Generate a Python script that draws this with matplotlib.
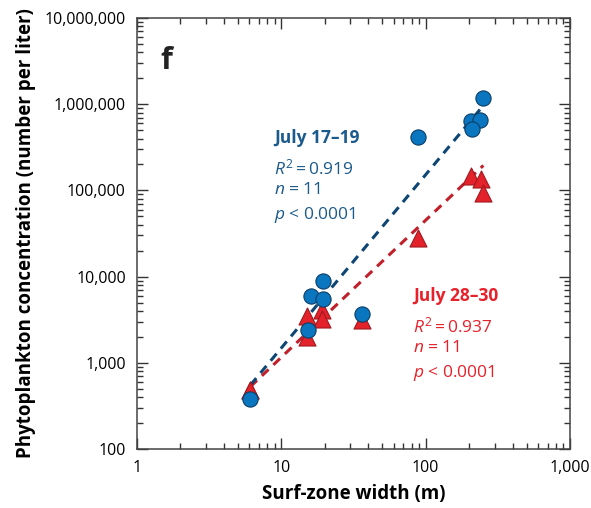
import numpy as np
import matplotlib.pyplot as plt
from matplotlib.ticker import FuncFormatter, LogLocator, NullFormatter

# ------------------------------
# Datos
# ------------------------------

# July 17-19 (círculos azules)
ancho_jul17 = [6.1, 15.4, 16.1, 19.3, 19.3, 36.5, 88, 207, 238, 211, 251]
conc_jul17 = [380, 2400, 5900, 8800, 5500, 3700, 413000, 640000, 650000, 512000, 1170000]

# July 28-30 (triángulos rojos)
ancho_jul28 = [6.1, 15.1, 15.1, 19.2, 19.2, 36.5, 88, 207, 240, 251, 6.1]
conc_jul28 = [485, 3450, 2000, 4100, 3200, 3100, 28000, 146000, 134000, 94000, 485]

# Rectas de regresión en log-log: log10(y) = a + b*log10(x)
ajuste_jul17 = (1.162, 2.01)
ajuste_jul28 = (1.474, 1.59)

etiquetas_jul17 = ["July 17\u201319", "$R^2 = 0.919$", "$n$ = 11", "$p$ < 0.0001"]
etiquetas_jul28 = ["July 28\u201330", "$R^2 = 0.937$", "$n$ = 11", "$p$ < 0.0001"]

azul_txt = "#1b5a8c"
rojo_txt = "#e8202a"

plt.rcParams['font.family'] = ['Open Sans', 'DejaVu Sans']
plt.rcParams['mathtext.fontset'] = 'custom'
plt.rcParams['mathtext.rm'] = 'Open Sans'
plt.rcParams['mathtext.it'] = 'Open Sans:italic'

fig = plt.figure(figsize=(5.91, 5.08), dpi=100)
ax = fig.add_axes([137 / 591, 1 - 449 / 508, 433 / 591, 431 / 508])


def recta(x, coef):
    a, b = coef
    xs = np.array([min(x), max(x)])
    return xs, 10 ** (a + b * np.log10(xs))


xa, ya = recta(ancho_jul17[:-1], ajuste_jul17)
xr, yr = recta(ancho_jul28, ajuste_jul28)
ax.plot(xr, yr, ls=(0, (3.0, 2.2)), color="#c0202a", lw=2.2, zorder=2)
ax.plot(xa, ya, ls=(0, (3.0, 2.2)), color="#0d4673", lw=2.2, zorder=2)

ax.scatter(ancho_jul28, conc_jul28, marker='^', s=150, color="#e3222b",
           edgecolor="#a01a20", linewidth=0.8, zorder=3)
ax.scatter(ancho_jul17, conc_jul17, marker='o', s=120, color="#0a76bf",
           edgecolor="#0d3f66", linewidth=0.8, zorder=4)

ax.set_xscale('log')
ax.set_yscale('log')
ax.set_xlim(1, 1000)
ax.set_ylim(100, 1e7)

fmt = FuncFormatter(lambda v, p: f"{v:,.0f}")
ax.xaxis.set_major_formatter(fmt)
ax.yaxis.set_major_formatter(fmt)
ax.xaxis.set_minor_locator(LogLocator(base=10, subs=np.arange(2, 10)))
ax.yaxis.set_minor_locator(LogLocator(base=10, subs=np.arange(2, 10)))
ax.xaxis.set_minor_formatter(NullFormatter())
ax.yaxis.set_minor_formatter(NullFormatter())
ax.tick_params(which='both', direction='in', top=True, right=True,
               labelsize=11.5, color='#333333', width=1)
ax.tick_params(which='major', length=8, pad=8)
ax.tick_params(which='minor', length=4)
for s in ax.spines.values():
    s.set_color('#444444')
    s.set_linewidth(1.1)

ax.set_xlabel("Surf-zone width (m)", fontsize=13.5, fontweight='bold', labelpad=6)
ax.set_ylabel("Phytoplankton concentration (number per liter)", fontsize=13.5,
              fontweight='bold', labelpad=6)

ax.text(0.055, 0.9, "f", transform=ax.transAxes, fontsize=22, fontweight='bold',
        color='#222222', va='center')

ys_a = [138, 168, 190, 215]
ys_r = [296, 326, 348, 373]
for i, (t, yy) in enumerate(zip(etiquetas_jul17, ys_a)):
    fig.text(274 / 591, 1 - yy / 508, t, color=azul_txt, fontsize=12.5,
             fontweight='bold' if i == 0 else 'normal', va='center')
for i, (t, yy) in enumerate(zip(etiquetas_jul28, ys_r)):
    fig.text(413 / 591, 1 - yy / 508, t, color=rojo_txt, fontsize=12.5,
             fontweight='bold' if i == 0 else 'normal', va='center')

fig.savefig("out.png", dpi=100)
